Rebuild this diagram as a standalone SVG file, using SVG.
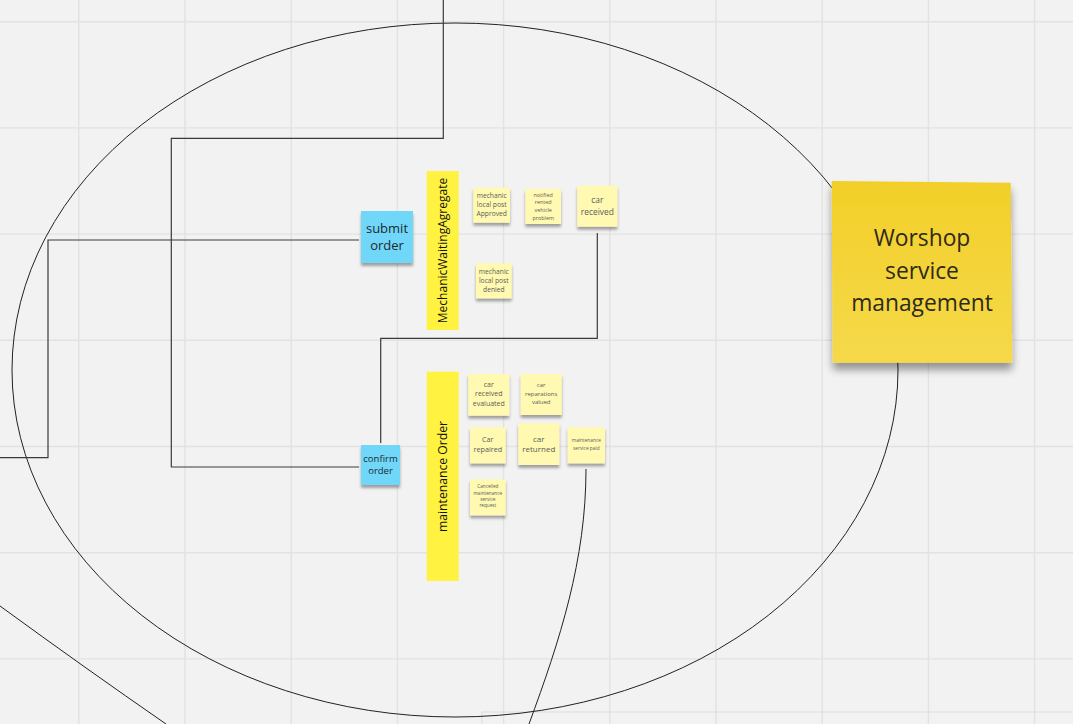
<svg xmlns="http://www.w3.org/2000/svg" width="1073" height="724" viewBox="0 0 1073 724">
<defs>
<style>
.grid{stroke:#e2e2e2;stroke-width:1.4;fill:none}
.conn{stroke:#3a3a3a;stroke-width:1.2;fill:none}
.curve{stroke:#222;stroke-width:1;fill:none}
.lt{fill:#fff9b1}
.bl{fill:#6fd7f8}
.bar{fill:#fff240}
.t{font-family:"Open Sans","Liberation Sans",sans-serif;text-anchor:middle}
.tl{fill:#5c5c5c}
.tb{fill:#1c2a33}
.tk{fill:#111}
</style>
<filter id="sh" x="-20%" y="-20%" width="140%" height="150%">
<feGaussianBlur in="SourceAlpha" stdDeviation="1.6"/>
<feOffset dx="0" dy="3" result="b"/>
<feComponentTransfer><feFuncA type="linear" slope="0.35"/></feComponentTransfer>
<feMerge><feMergeNode/><feMergeNode in="SourceGraphic"/></feMerge>
</filter>
<filter id="shb" x="-20%" y="-20%" width="140%" height="150%">
<feGaussianBlur in="SourceAlpha" stdDeviation="4"/>
<feOffset dx="0" dy="7" result="b"/>
<feComponentTransfer><feFuncA type="linear" slope="0.4"/></feComponentTransfer>
<feMerge><feMergeNode/><feMergeNode in="SourceGraphic"/></feMerge>
</filter>
<linearGradient id="wg" x1="0" y1="0" x2="0" y2="1">
<stop offset="0" stop-color="#f2cf28"/>
<stop offset="1" stop-color="#f5d94a"/>
</linearGradient>
</defs>
<rect width="1073" height="724" fill="#f2f2f2"/>
<path class="grid" d="M78.8 0V724M185 0V724M291.2 0V724M397.4 0V724M503.6 0V724M609.8 0V724M716 0V724M822.2 0V724M928.4 0V724M1034.6 0V724M0 21.7H1073M0 127.9H1073M0 234.1H1073M0 340.3H1073M0 446.5H1073M0 552.7H1073M0 658.9H1073"/>
<rect x="482" y="712" width="620" height="40" fill="none" stroke="#dcdcdc" stroke-width="1"/>
<g id="connectors">
<ellipse class="curve" cx="455" cy="370" rx="443" ry="347"/>
<path class="curve" d="M0 606 Q85 668 166 724"/>
<path class="curve" d="M586 469 C586 560 560 640 529 724"/>
<path class="conn" d="M443.3 0V138.3H171.3V467H359"/>
<path class="conn" d="M359 240H48V457.7H0"/>
<path class="conn" d="M597.3 233V338.3H380.7V443"/>
</g>
<g id="submit-order">
<rect class="bl" x="361" y="211" width="52" height="52" filter="url(#sh)"/>
<text class="t tb" font-size="13" x="387"><tspan x="387" y="233">submit</tspan><tspan x="387" y="249.5">order</tspan></text>
</g>
<g id="confirm-order">
<rect class="bl" x="361" y="445" width="39" height="40" filter="url(#sh)"/>
<text class="t tb" font-size="9.5" x="380.5"><tspan x="380.5" y="461.7">confirm</tspan><tspan x="380.5" y="473.5">order</tspan></text>
</g>
<g id="mechanic-waiting-agregate">
<rect class="bar" x="426.7" y="171" width="32" height="159"/>
<text class="t tk" font-size="12" transform="translate(447 250.5) rotate(-90)" x="0" y="0">MechanicWaitingAgregate</text>
</g>
<g id="maintenance-order">
<rect class="bar" x="426.7" y="371.7" width="32" height="209.3"/>
<text class="t tk" font-size="12.2" transform="translate(447.2 476.5) rotate(-90)" x="0" y="0">maintenance Order</text>
</g>
<g id="mechanic-local-post-approved">
<rect class="lt" x="473.3" y="187.7" width="36.7" height="35" filter="url(#sh)"/>
<text class="t tl" font-size="6.7"><tspan x="491.7" y="198.3">mechanic</tspan><tspan x="491.7" y="207">local post</tspan><tspan x="491.7" y="215.8">Approved</tspan></text>
</g>
<g id="notified-rented-vehicle-problem">
<rect class="lt" x="525.3" y="189" width="35.7" height="35" filter="url(#sh)"/>
<text class="t tl" font-size="5.4"><tspan x="543.2" y="196.5">notified</tspan><tspan x="543.2" y="204.2">rented</tspan><tspan x="543.2" y="211.9">vehicle</tspan><tspan x="543.2" y="219.5">problem</tspan></text>
</g>
<g id="car-received">
<rect class="lt" x="577.3" y="185.7" width="40" height="41" filter="url(#sh)"/>
<text class="t tl" font-size="8.4"><tspan x="597.3" y="203.3">car</tspan><tspan x="597.3" y="215">received</tspan></text>
</g>
<g id="mechanic-local-post-denied">
<rect class="lt" x="476" y="263.3" width="35.7" height="35" filter="url(#sh)"/>
<text class="t tl" font-size="6.7"><tspan x="493.8" y="274.3">mechanic</tspan><tspan x="493.8" y="283">local post</tspan><tspan x="493.8" y="291.7">denied</tspan></text>
</g>
<g id="car-received-evaluated">
<rect class="lt" x="468.3" y="374" width="41" height="41.7" filter="url(#sh)"/>
<text class="t tl" font-size="7"><tspan x="488.8" y="386.7">car</tspan><tspan x="488.8" y="396.2">received</tspan><tspan x="488.8" y="405.5">evaluated</tspan></text>
</g>
<g id="car-reparations-valued">
<rect class="lt" x="520.7" y="374" width="41" height="41" filter="url(#sh)"/>
<text class="t tl" font-size="6"><tspan x="541.2" y="387.3">car</tspan><tspan x="541.2" y="395.8">reparations</tspan><tspan x="541.2" y="404.3">valued</tspan></text>
</g>
<g id="car-repaired">
<rect class="lt" x="470" y="427.3" width="35.7" height="36" filter="url(#sh)"/>
<text class="t tl" font-size="7.2"><tspan x="487.8" y="441.7">Car</tspan><tspan x="487.8" y="452.3">repaired</tspan></text>
</g>
<g id="car-returned">
<rect class="lt" x="518.3" y="423.3" width="41" height="41.7" filter="url(#sh)"/>
<text class="t tl" font-size="8"><tspan x="538.8" y="441.7">car</tspan><tspan x="538.8" y="452.3">returned</tspan></text>
</g>
<g id="maintenance-service-paid">
<rect class="lt" x="567.7" y="427.3" width="37.3" height="36" filter="url(#sh)"/>
<text class="t tl" font-size="4.8"><tspan x="586.3" y="442.3">maintenance</tspan><tspan x="586.3" y="449.7">service paid</tspan></text>
</g>
<g id="cancelled-maintenance-service-request">
<rect class="lt" x="470" y="479.3" width="35.7" height="36" filter="url(#sh)"/>
<text class="t tl" font-size="4.7"><tspan x="487.8" y="488.3">Cancelled</tspan><tspan x="487.8" y="494.6">maintenance</tspan><tspan x="487.8" y="500.9">service</tspan><tspan x="487.8" y="507.2">request</tspan></text>
</g>
<g id="worshop-service-management">
<polygon points="831.7,181 1010.7,182.7 1012.3,362.7 832.7,362.7" fill="url(#wg)" filter="url(#shb)"/>
<text class="t" font-size="22.8" fill="#2e2a1a"><tspan x="922" y="246">Worshop</tspan><tspan x="922" y="278.5">service</tspan><tspan x="922" y="310.7">management</tspan></text>
</g>
</svg>
